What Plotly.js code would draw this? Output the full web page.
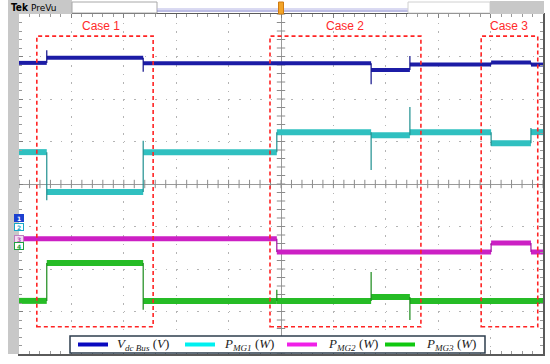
<!DOCTYPE html>
<html><head><meta charset="utf-8">
<script src="https://cdn.plot.ly/plotly-3.0.1.min.js"></script>
<style>html,body{margin:0;padding:0;background:#fff}#chart{width:550px;height:364px}</style>
</head><body><div id="chart"></div>
<script>
// time in screen divisions (-5..5), amplitude in vertical divisions (-4..4)
const vdcTimes  = [-5, -4.47, -2.63, 1.72, 2.46, 4.01, 4.77, 5];
const vdcLevels = [2.85, 2.97, 2.84, 2.68, 2.81, 2.86, 2.81];
const vdcSpikes = [3.15, 2.64, 2.35, 3.01, null, null];

const mg1Times  = [-5, -4.47, -2.63, -0.08, 1.72, 2.46, 4.01, 4.77, 5];
const mg1Levels = [0.75, -0.19, 0.75, 1.22, 1.15, 1.22, 0.96, 1.22];
const mg1Spikes = [-0.38, 1.02, null, 0.33, 1.81, 0.9, 1.32];

const mg2Times  = [-5, -0.08, 4.01, 4.77, 5];
const mg2Levels = [-1.29, -1.6, -1.39, -1.6];
const mg2Spikes = [null, null, null];

const mg3Times  = [-5, -4.47, -2.63, -0.08, 1.72, 2.46, 5];
const mg3Levels = [-2.75, -1.86, -2.75, -2.75, -2.66, -2.75];
const mg3Spikes = [null, -2.96, -2.49, -2.07, -3.2];

const seriesNames = [
  '<i>V</i><sub><i>dc Bus</i></sub> (<i>V</i>)',
  '<i>P</i><sub><i>MG1</i></sub> (<i>W</i>)',
  '<i>P</i><sub><i>MG2</i></sub> (<i>W</i>)',
  '<i>P</i><sub><i>MG3</i></sub> (<i>W</i>)'
];
const caseLabels = ['Case 1', 'Case 2', 'Case 3'];
const caseStart = [-4.66, -0.21, 3.82];
const caseEnd   = [-2.44, 2.67, 4.90];

function band(times, levels) {
  const x = [], y = [];
  for (let i = 0; i < levels.length; i++) {
    x.push(times[i], times[i + 1], null);
    y.push(levels[i], levels[i], null);
  }
  return {x, y};
}
function edges(times, levels, spikes) {
  const x = [], y = [];
  for (let j = 1; j < times.length - 1; j++) {
    const t = times[j], prev = levels[j - 1], next = levels[j], s = spikes[j - 1];
    x.push(t, t, t, null);
    y.push(prev, s === null ? prev : s, next, null);
  }
  return {x, y};
}

const series = [
  {t: vdcTimes, l: vdcLevels, s: vdcSpikes, c: '#1c1ca6', e: '#10108a', w: 4, lc: '#0a0ac0'},
  {t: mg1Times, l: mg1Levels, s: mg1Spikes, c: '#30c0c0', e: '#1f8f8f', w: 6, lc: '#00f0f0'},
  {t: mg2Times, l: mg2Levels, s: mg2Spikes, c: '#cc20c4', e: '#a010a0', w: 5, lc: '#f020e8'},
  {t: mg3Times, l: mg3Levels, s: mg3Spikes, c: '#26bc26', e: '#1a8a1a', w: 6, lc: '#10c810'}
];

const traces = [];
// small division ticks on the centre cross
const cx = [], cy = [], vx = [], vy = [];
for (let k = -25; k <= 25; k++) { cx.push(k / 5); cy.push(0); }
for (let k = -20; k <= 20; k++) { vx.push(0); vy.push(k / 5); }
traces.push({x: cx, y: cy, mode: 'markers', marker: {symbol: 'line-ns', size: 6, line: {width: 1, color: '#8c8c8c'}}, hoverinfo: 'skip', showlegend: false});
traces.push({x: vx, y: vy, mode: 'markers', marker: {symbol: 'line-ew', size: 6, line: {width: 1, color: '#8c8c8c'}}, hoverinfo: 'skip', showlegend: false});

series.forEach((sr, i) => {
  const b = band(sr.t, sr.l);
  traces.push({x: b.x, y: b.y, mode: 'lines', name: seriesNames[i], line: {color: sr.c, width: sr.w}, hoverinfo: 'skip', showlegend: false});
  const e = edges(sr.t, sr.l, sr.s);
  traces.push({x: e.x, y: e.y, mode: 'lines', line: {color: sr.e, width: 1.2}, hoverinfo: 'skip', showlegend: false});
});

const px = p => (p - 19) / 524;
const py = p => (354 - p) / 340;

const shapes = [];
// left gray bar and header
shapes.push({type: 'rect', xref: 'paper', yref: 'paper', x0: px(8), x1: px(19), y0: py(354), y1: py(0), fillcolor: '#c8c8c8', line: {width: 0}, layer: 'above'});
shapes.push({type: 'rect', xref: 'paper', yref: 'paper', x0: px(8), x1: px(72), y0: py(14), y1: py(0), fillcolor: '#c8c8c8', line: {width: 0}});
shapes.push({type: 'rect', xref: 'paper', yref: 'paper', x0: px(72), x1: px(157), y0: py(13), y1: py(2), fillcolor: '#ffffff', line: {width: 1, color: '#a8a8a8'}});
shapes.push({type: 'line', xref: 'paper', yref: 'paper', x0: px(157), x1: px(408), y0: py(9), y1: py(9), line: {width: 1, color: '#b4b4e4'}});
shapes.push({type: 'line', xref: 'paper', yref: 'paper', x0: px(157), x1: px(408), y0: py(11), y1: py(11), line: {width: 1, color: '#7878c8'}});
shapes.push({type: 'rect', xref: 'paper', yref: 'paper', x0: px(408), x1: px(490), y0: py(13), y1: py(2), fillcolor: '#ffffff', line: {width: 1, color: '#d0d0d0'}});
shapes.push({type: 'rect', xref: 'paper', yref: 'paper', x0: px(490), x1: px(544), y0: py(14), y1: py(1), fillcolor: '#c8c8c8', line: {width: 0}});
shapes.push({type: 'rect', xref: 'paper', yref: 'paper', x0: px(278.5), x1: px(283.5), y0: py(14), y1: py(2), fillcolor: '#f2a428', line: {width: 1, color: '#d07a10'}});
// case boxes
caseStart.forEach((s, i) => {
  shapes.push({type: 'rect', xref: 'x', yref: 'y', x0: s, x1: caseEnd[i], y0: -3.36, y1: 3.48,
    line: {color: '#ff2424', width: 1.6, dash: '4px,3px'}, fillcolor: 'rgba(0,0,0,0)', layer: 'above'});
});
// legend box
shapes.push({type: 'rect', xref: 'paper', yref: 'paper', x0: px(70), x1: px(485), y0: py(353), y1: py(336),
  fillcolor: '#ffffff', line: {width: 1.5, color: '#2e3e4e'}, layer: 'above'});
const legendLineX = [78, 185, 287, 385];
const legendTextX = [115, 222, 326, 424];
series.forEach((sr, i) => {
  shapes.push({type: 'line', xref: 'paper', yref: 'paper', x0: px(legendLineX[i]), x1: px(legendLineX[i] + 30),
    y0: py(344.5), y1: py(344.5), line: {width: 4, color: sr.lc}, layer: 'above'});
});

const annotations = [
  {xref: 'paper', yref: 'paper', x: px(9), y: py(7.5), xanchor: 'left', yanchor: 'middle', text: '<b>Tek</b>', showarrow: false, font: {family: 'DejaVu Sans Condensed', size: 10, color: '#000'}},
  {xref: 'paper', yref: 'paper', x: px(29), y: py(7.5), xanchor: 'left', yanchor: 'middle', text: 'PreVu', showarrow: false, font: {family: 'DejaVu Sans', size: 9, color: '#000'}},
  {xref: 'x', yref: 'y', x: -3.435, y: 3.72, text: caseLabels[0], showarrow: false, font: {family: 'Liberation Sans', size: 12, color: '#ff2a2a'}},
  {xref: 'x', yref: 'y', x: 1.22, y: 3.72, text: caseLabels[1], showarrow: false, font: {family: 'Liberation Sans', size: 12, color: '#ff2a2a'}},
  {xref: 'x', yref: 'y', x: 4.35, y: 3.72, text: caseLabels[2], showarrow: false, font: {family: 'Liberation Sans', size: 12, color: '#ff2a2a'}},
  {xref: 'paper', yref: 'paper', x: px(13.5), y: py(217.5), text: '<b>1</b>', showarrow: false, font: {family: 'DejaVu Sans', size: 6, color: '#fff'}, bgcolor: '#1c40d0', bordercolor: '#1c40d0', borderpad: 0, width: 8, height: 6},
  {xref: 'paper', yref: 'paper', x: px(13.5), y: py(226.5), text: '<b>2</b>', showarrow: false, font: {family: 'DejaVu Sans', size: 6, color: '#18a8c8'}, bgcolor: '#ffffff', bordercolor: '#18a8c8', borderpad: 0, width: 8, height: 6},
  {xref: 'paper', yref: 'paper', x: px(13.5), y: py(238.5), text: '<b>3</b>', showarrow: false, font: {family: 'DejaVu Sans', size: 6, color: '#b050b0'}, bgcolor: '#f4dcf4', bordercolor: '#c080c0', borderpad: 0, width: 8, height: 6},
  {xref: 'paper', yref: 'paper', x: px(13.5), y: py(249.5), text: '<b>4</b>', showarrow: false, font: {family: 'DejaVu Sans', size: 6, color: '#20a040'}, bgcolor: '#ffffff', bordercolor: '#20a040', borderpad: 0, width: 8, height: 6}
];
seriesNames.forEach((name, i) => {
  annotations.push({xref: 'paper', yref: 'paper', x: px(legendTextX[i]), y: py(344), xanchor: 'left', yanchor: 'middle',
    text: name, showarrow: false, font: {family: 'Liberation Serif', size: 13, color: '#222'}});
});

const axisCommon = {
  showgrid: true, gridcolor: '#b4b4b4', gridwidth: 1,
  zeroline: true, zerolinecolor: '#9a9a9a', zerolinewidth: 1,
  showline: true, mirror: 'ticks', linecolor: '#5a5a5a', linewidth: 1.5,
  ticks: 'inside', ticklen: 4, tickcolor: '#808080', tickwidth: 1,
  showticklabels: false, fixedrange: true
};

const layout = {
  width: 550, height: 364,
  margin: {l: 19, r: 7, t: 14, b: 10, pad: 0, autoexpand: false},
  paper_bgcolor: '#ffffff', plot_bgcolor: '#ffffff',
  xaxis: Object.assign({}, axisCommon, {range: [-5, 5], dtick: 1, tick0: 0, griddash: '1.5px,7px',
    minor: {dtick: 0.2, ticks: 'inside', ticklen: 3, tickcolor: '#9a9a9a', showgrid: false}}),
  yaxis: Object.assign({}, axisCommon, {range: [-4, 4], dtick: 1, tick0: 0, griddash: '1.5px,8.98px',
    minor: {dtick: 0.2, ticks: 'inside', ticklen: 3, tickcolor: '#9a9a9a', showgrid: false}}),
  showlegend: false,
  shapes: shapes,
  annotations: annotations
};

Plotly.newPlot('chart', traces, layout, {staticPlot: true, displayModeBar: false});
</script>
</body></html>
